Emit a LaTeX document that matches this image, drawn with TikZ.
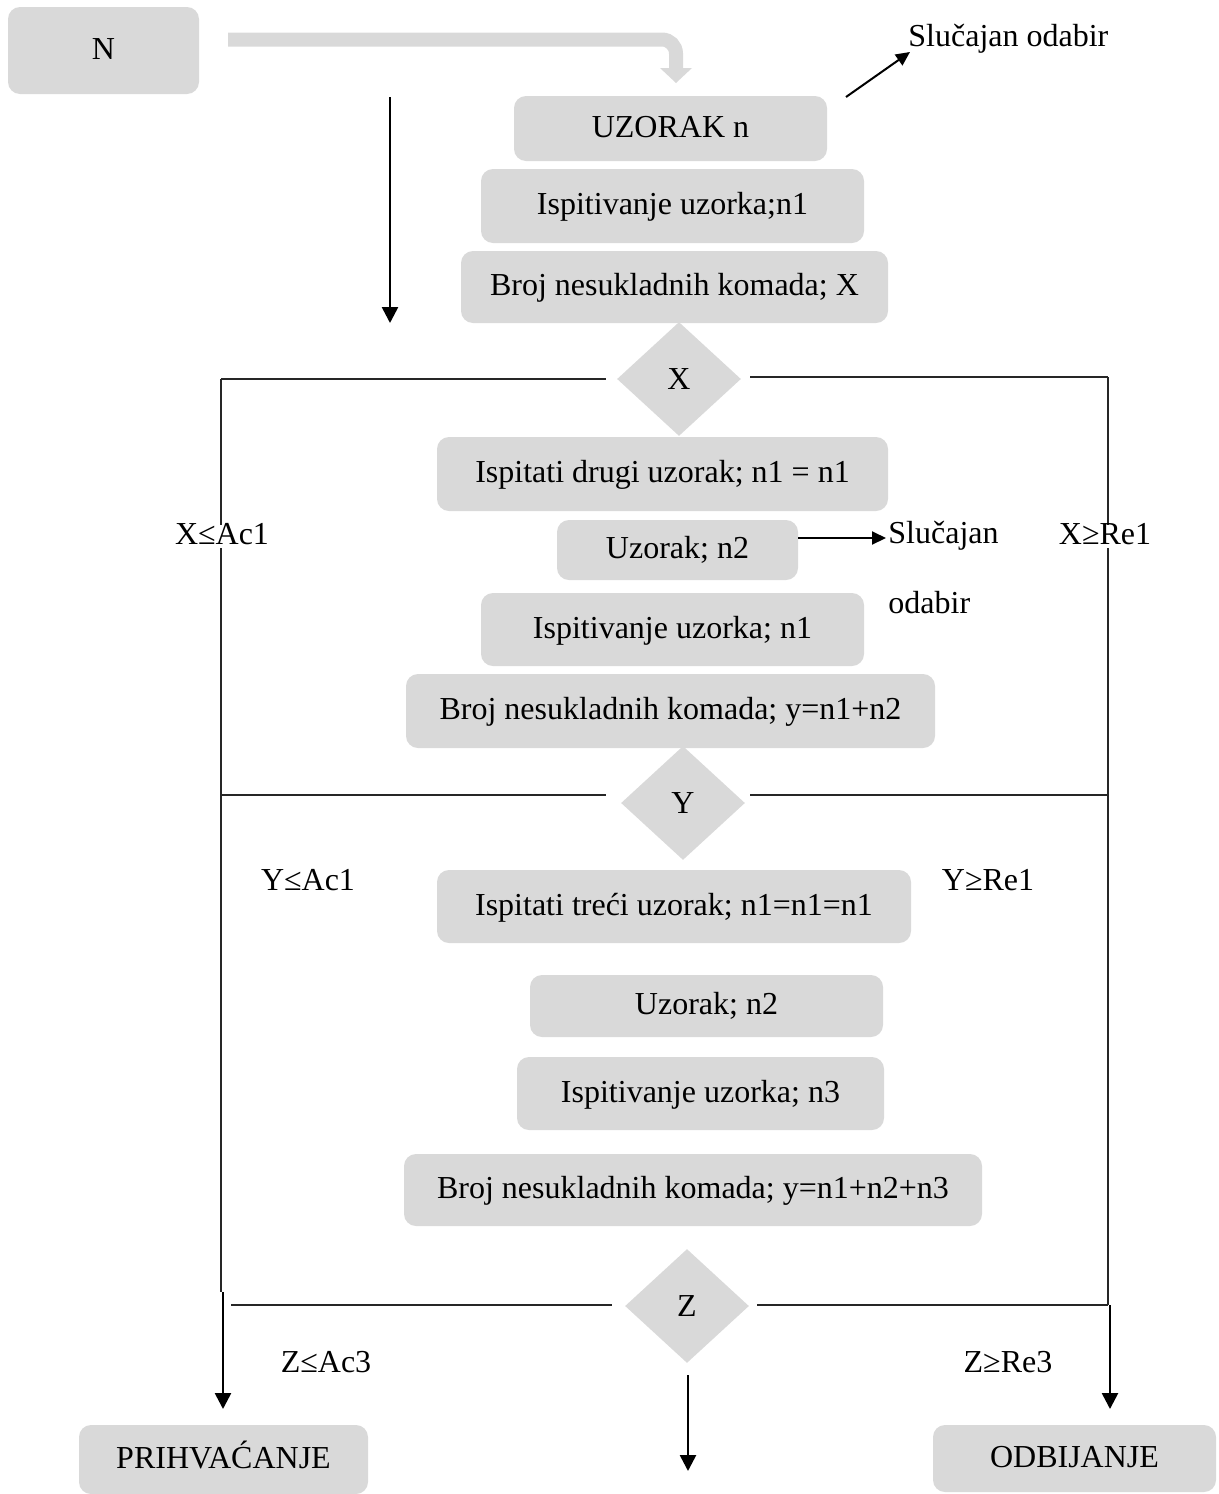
\documentclass[tikz,border=0pt]{standalone}
\usepackage{fontspec}
\setmainfont{Liberation Serif}
\usetikzlibrary{shapes.geometric,arrows.meta}
\definecolor{boxgray}{HTML}{D9D9D9}
\tikzset{
  box/.style={fill=boxgray, rounded corners=6pt, inner sep=0pt, align=center, text height=0.9em, text depth=0.05em},
  dia/.style={diamond, fill=boxgray, inner sep=0pt, minimum width=62pt, minimum height=57pt},
  conn/.style={line width=0.75pt, black!85},
  thickarr/.style={line width=1.3pt, -{Triangle[length=8pt,width=8pt]}},
  thinarr/.style={line width=1pt, -{Triangle[length=7pt,width=6.5pt]}},
  lbl/.style={inner sep=1pt, text height=0.9em, text depth=0.05em},
}
\begin{document}
\begin{tikzpicture}[x=0.5pt,y=-0.5pt,font=\fontsize{16}{19}\selectfont]
\useasboundingbox (0,0) rectangle (1219,1494);
% boxes
\node[box, minimum width=191*0.5pt, minimum height=87*0.5pt] (N) at (103.5,50.5) {N};
\node[box, minimum width=313*0.5pt, minimum height=65*0.5pt] (uz) at (670.5,128.5) {UZORAK n};
\node[box, minimum width=383*0.5pt, minimum height=74*0.5pt] (is1) at (672.5,206) {Ispitivanje uzorka;n1};
\node[box, minimum width=427*0.5pt, minimum height=72*0.5pt] (br1) at (674.5,287) {Broj nesukladnih komada; X};
\node[dia] (dX) at (679,379) {X};
\node[box, minimum width=451*0.5pt, minimum height=74*0.5pt] (idu) at (662.5,474) {Ispitati drugi uzorak; n1 = n1};
\node[box, minimum width=241*0.5pt, minimum height=60*0.5pt] (uz2) at (677.5,550) {Uzorak; n2};
\node[box, minimum width=383*0.5pt, minimum height=73*0.5pt] (is2) at (672.5,629.5) {Ispitivanje uzorka; n1};
\node[box, minimum width=529*0.5pt, minimum height=74*0.5pt] (br2) at (670.5,711) {Broj nesukladnih komada; y=n1+n2};
\node[dia] (dY) at (683,803) {Y};
\node[box, minimum width=474*0.5pt, minimum height=73*0.5pt] (itu) at (674,906.5) {Ispitati treći uzorak; n1=n1=n1};
\node[box, minimum width=353*0.5pt, minimum height=62*0.5pt] (uz3) at (706.5,1006) {Uzorak; n2};
\node[box, minimum width=367*0.5pt, minimum height=73*0.5pt] (is3) at (700.5,1093.5) {Ispitivanje uzorka; n3};
\node[box, minimum width=578*0.5pt, minimum height=72*0.5pt] (br3) at (693,1190) {Broj nesukladnih komada; y=n1+n2+n3};
\node[dia] (dZ) at (687,1306) {Z};
\node[box, minimum width=289*0.5pt, minimum height=69*0.5pt] (pr) at (223.5,1459.5) {PRIHVAĆANJE};
\node[box, minimum width=283*0.5pt, minimum height=67*0.5pt] (od) at (1074.5,1458.5) {ODBIJANJE};

% thick grey arrow from N to UZORAK
\coordinate (ga) at (228,39.5);
\coordinate (gb) at (676,39.5);
\coordinate (gc) at (676,69);
\draw[boxgray, line width=7pt, rounded corners=7pt] (ga) -- (gb) -- (gc);
\fill[boxgray] (660,68) -- (692,68) -- (676,83) -- cycle;

% black arrow left of stack
\coordinate (va) at (390,97);
\coordinate (vb) at (390,323);
\draw[thickarr] (va) -- (vb);

% Slučajan odabir top
\node[lbl, anchor=west] (sl1) at (906,38) {Slučajan odabir};
\coordinate (s1a) at (846,97);
\coordinate (s1b) at (910,52);
\draw[thinarr] (s1a) -- (s1b);

% Slučajan middle
\node[lbl, anchor=west] (sl2) at (886,535) {Slučajan};
\node[lbl, anchor=west] (sl2b) at (886,605) {odabir};
\draw[thinarr] (uz2.east |- 0,538) -- (886,538);

% frame lines
\coordinate (L1) at (221,379);
\coordinate (R1) at (1108,377);
\coordinate (L2) at (221,795);
\coordinate (R2) at (1108,795);
\coordinate (L3) at (231,1305);
\coordinate (R3) at (1108,1305);
\coordinate (Lb) at (221,1292);
\draw[conn] (L1) -- ([xshift=-5.5pt]dX.west);
\draw[conn] ([xshift=4.5pt]dX.east |- R1) -- (R1);
\draw[conn] (L2) -- ([xshift=-7.5pt]dY.west |- L2);
\draw[conn] ([xshift=2.5pt]dY.east |- R2) -- (R2);
\draw[conn] (L3) -- ([xshift=-6.5pt]dZ.west |- L3);
\draw[conn] ([xshift=4pt]dZ.east |- R3) -- (R3);
\draw[conn] (L1) -- (Lb);
\draw[conn] (R1) -- (R3);

% labels
\node[lbl, fill=white] at (222,536) {X≤Ac1};
\node[lbl, fill=white] at (1105,536) {X≥Re1};
\node[lbl] at (308,882) {Y≤Ac1};
\node[lbl] at (988,882) {Y≥Re1};
\node[lbl] at (326,1364) {Z≤Ac3};
\node[lbl] at (1008,1364) {Z≥Re3};

% bottom arrows
\coordinate (ba) at (223,1292);
\draw[thickarr] (ba) -- (223,1409);
\coordinate (bc) at (688,1375);
\draw[thickarr] (bc) -- (688,1471);
\draw[thickarr] (R3) ++(2,0) -- (1110,1409);
\end{tikzpicture}
\end{document}
